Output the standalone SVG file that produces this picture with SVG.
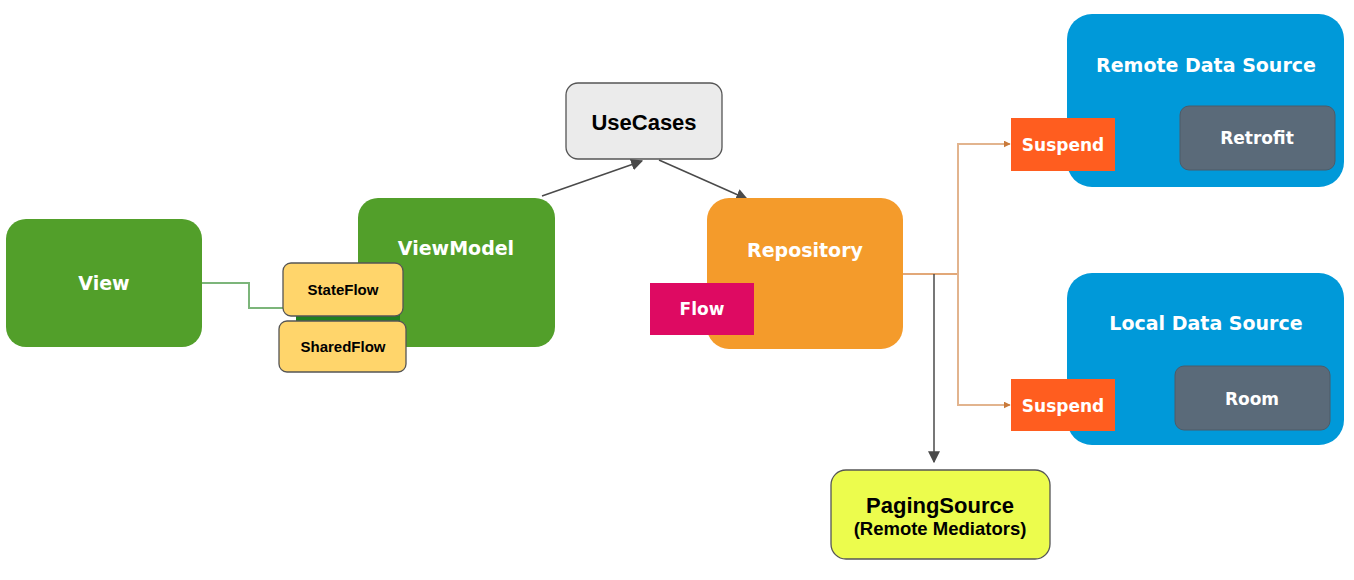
<svg xmlns="http://www.w3.org/2000/svg" width="1354" height="580" viewBox="0 0 1354 580">
<style>
.w{font-family:"DejaVu Sans",Verdana,sans-serif;font-weight:bold;fill:#fff;text-anchor:middle}
.k{font-family:"Liberation Sans",Arial,sans-serif;font-weight:bold;fill:#000;text-anchor:middle}
.green{fill:#529f2a}
.blue{fill:#0099d9}
.grey{fill:#5a6a79;stroke:#4d5b68;stroke-width:1}
.susp{fill:#ff5d1f}
.yel{fill:#ffd56b;stroke:#555;stroke-width:1.3}
</style>
<defs>
<marker id="ahL" viewBox="0 0 10 10" refX="9" refY="5" markerWidth="12" markerHeight="12" markerUnits="userSpaceOnUse" orient="auto"><path d="M0,0 L10,5 L0,10 z" fill="#4a4a4a"/></marker>
<marker id="ao" viewBox="0 0 10 10" refX="9" refY="5" markerWidth="7" markerHeight="7" markerUnits="userSpaceOnUse" orient="auto"><path d="M0,0 L10,5 L0,10 z" fill="#c97a3a"/></marker>
</defs>

<g id="connectors" fill="none">
<path d="M202,283 H249 V308 H284" stroke="#7cb57a" stroke-width="2"/>
<path d="M542,196 L642,161" stroke="#4a4a4a" stroke-width="1.5" marker-end="url(#ahL)"/>
<path d="M659,160 L747,199" stroke="#4a4a4a" stroke-width="1.5" marker-end="url(#ahL)"/>
<path d="M903,274 H958" stroke="#e2a878" stroke-width="2"/>
<path d="M958,274 V144 H1010" stroke="#e2b48e" stroke-width="2" marker-end="url(#ao)"/>
<path d="M958,274 V405 H1010" stroke="#e2b48e" stroke-width="2" marker-end="url(#ao)"/>
<path d="M934,274 V462" stroke="#4a4a4a" stroke-width="1.5" marker-end="url(#ahL)"/>
</g>

<g id="view">
<rect x="6" y="219" width="196" height="128" rx="20" class="green"/>
<text x="104" y="290" class="w" font-size="19">View</text>
</g>

<g id="viewmodel">
<rect x="358" y="198" width="197" height="149" rx="20" class="green"/>
<text x="456" y="255" class="w" font-size="19">ViewModel</text>
</g>

<g id="stateflow-strip">
<rect x="296" y="314" width="104" height="8" fill="#1f7f1f"/>
</g>

<g id="stateflow">
<rect x="283" y="263" width="120" height="53" rx="8" class="yel"/>
<text x="343" y="295" class="k" font-size="15">StateFlow</text>
</g>

<g id="sharedflow">
<rect x="279" y="321" width="127" height="51" rx="8" class="yel"/>
<text x="343" y="352" class="k" font-size="15">SharedFlow</text>
</g>

<g id="usecases">
<rect x="566" y="83" width="156" height="76" rx="12" fill="#ebebeb" stroke="#555" stroke-width="1.3"/>
<text x="644" y="130" class="k" font-size="22">UseCases</text>
</g>

<g id="repository">
<rect x="707" y="198" width="196" height="151" rx="22" fill="#f49b2b"/>
<text x="805" y="257" class="w" font-size="19">Repository</text>
</g>

<g id="flow">
<rect x="650" y="283" width="104" height="52" fill="#de0a62"/>
<text x="702" y="315" class="w" font-size="17">Flow</text>
</g>

<g id="remote-data-source">
<rect x="1067" y="14" width="277" height="173" rx="25" class="blue"/>
<text x="1206" y="72" class="w" font-size="19">Remote Data Source</text>
</g>

<g id="retrofit">
<rect x="1180" y="106" width="155" height="64" rx="9" class="grey"/>
<text x="1257" y="144" class="w" font-size="17">Retrofit</text>
</g>

<g id="suspend-remote">
<rect x="1011" y="118" width="104" height="53" class="susp"/>
<text x="1063" y="151" class="w" font-size="17">Suspend</text>
</g>

<g id="local-data-source">
<rect x="1067" y="273" width="277" height="172" rx="25" class="blue"/>
<text x="1206" y="330" class="w" font-size="19">Local Data Source</text>
</g>

<g id="room">
<rect x="1175" y="366" width="155" height="64" rx="9" class="grey"/>
<text x="1252" y="405" class="w" font-size="17">Room</text>
</g>

<g id="suspend-local">
<rect x="1011" y="379" width="104" height="52" class="susp"/>
<text x="1063" y="412" class="w" font-size="17">Suspend</text>
</g>

<g id="pagingsource">
<rect x="831" y="470" width="219" height="89" rx="15" fill="#ecfc4d" stroke="#555" stroke-width="1.3"/>
<text x="940" y="513" class="k" font-size="22">PagingSource</text>
<text x="940" y="535" class="k" font-size="18.5">(Remote Mediators)</text>
</g>
</svg>
